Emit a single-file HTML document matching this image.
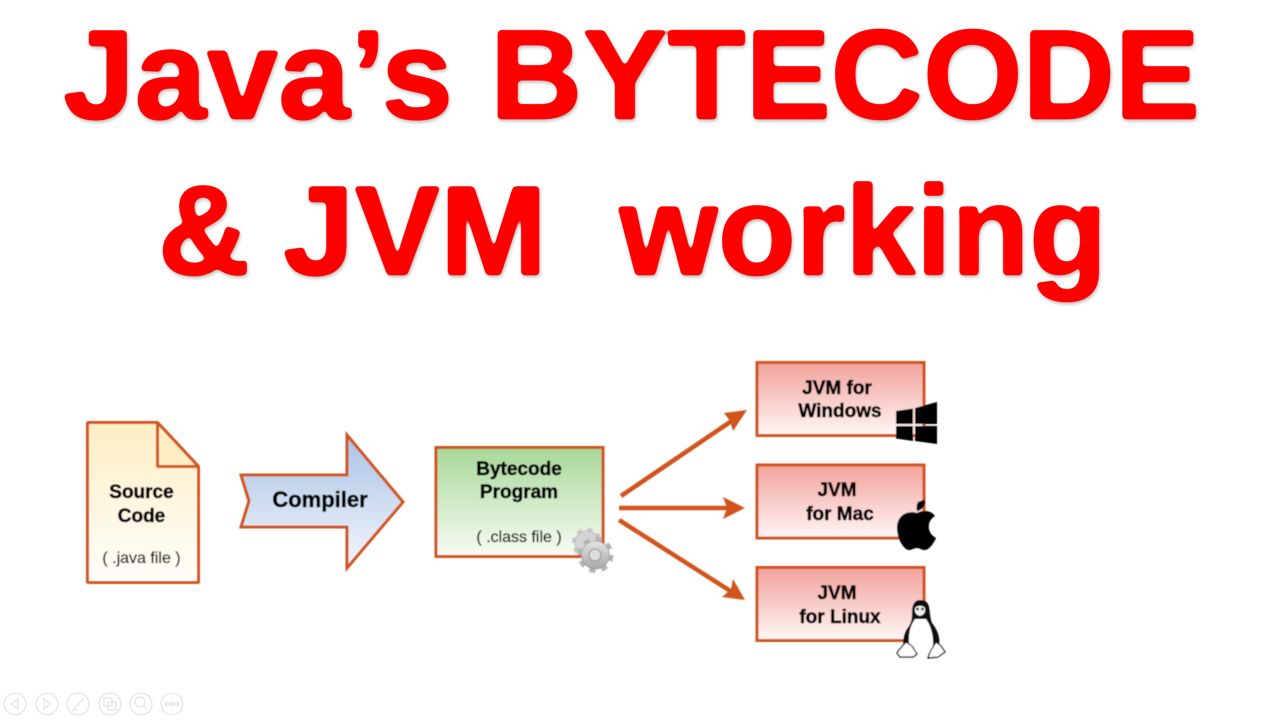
<!DOCTYPE html>
<html><head><meta charset="utf-8"><style>html,body{margin:0;padding:0;background:#fff}svg{display:block}</style></head><body>
<svg width="1280" height="720" viewBox="0 0 1280 720" xmlns="http://www.w3.org/2000/svg">
<defs>
<linearGradient id="y" x1="0" y1="0" x2="0" y2="1"><stop offset="0" stop-color="#fdeec4"/><stop offset="1" stop-color="#fffefa"/></linearGradient>
<linearGradient id="b" x1="0" y1="0" x2="0" y2="1"><stop offset="0" stop-color="#a9c3e6"/><stop offset="1" stop-color="#f4f7fc"/></linearGradient>
<linearGradient id="g" x1="0" y1="0" x2="0" y2="1"><stop offset="0" stop-color="#a8d898"/><stop offset="1" stop-color="#f8fcf6"/></linearGradient>
<linearGradient id="r" x1="0" y1="0" x2="0" y2="1"><stop offset="0" stop-color="#f2a29c"/><stop offset="1" stop-color="#fff6f5"/></linearGradient>
<linearGradient id="gear" x1="0" y1="0" x2="0" y2="1"><stop offset="0" stop-color="#e4e4e4"/><stop offset="1" stop-color="#a8a8a8"/></linearGradient>
<filter id="s" x="-5%" y="-5%" width="110%" height="110%"><feGaussianBlur stdDeviation="0.5"/></filter>
<filter id="sh" x="-5%" y="-10%" width="110%" height="125%" color-interpolation-filters="sRGB">
<feGaussianBlur stdDeviation="2.2" result="bl"/>
<feComponentTransfer in="bl" result="th"><feFuncA type="linear" slope="6" intercept="-2.5"/></feComponentTransfer>
<feDropShadow in="th" dx="1" dy="2" stdDeviation="1.5" flood-color="#000" flood-opacity="0.25"/>
</filter>
</defs>

<g font-family="'Liberation Sans',sans-serif" font-weight="700" font-size="127" fill="#ff0000" stroke="#ff0000" stroke-width="1.800" filter="url(#sh)">
<text x="63" y="118.500" textLength="390" lengthAdjust="spacingAndGlyphs">Java’s</text>
<text x="490" y="118.500" textLength="710" lengthAdjust="spacingAndGlyphs">BYTECODE</text>
<text x="158" y="274.500" textLength="92" lengthAdjust="spacingAndGlyphs">&amp;</text>
<text x="283" y="274.500" textLength="264" lengthAdjust="spacingAndGlyphs">JVM</text>
<text x="619" y="274.500" textLength="488" lengthAdjust="spacingAndGlyphs">working</text>
</g>

<g filter="url(#s)">
<g stroke="#d2521a" stroke-width="3" stroke-linejoin="bevel">
<path d="M87.500 422.500H157.500L198.500 466.500V582.500H87.500Z" fill="url(#y)"/>
<path d="M157.500 422.500V466.500H198.500Z" fill="#fdeec4"/>
</g>
<g stroke="#d2521a" stroke-width="3" stroke-linejoin="miter">
<path d="M241 475H347V435L403 502L347 568V527H241L249 501Z" fill="url(#b)"/>
<rect x="436" y="447.500" width="167" height="109" fill="url(#g)"/>
<rect x="757" y="362.500" width="167" height="73" fill="url(#r)"/>
<rect x="757" y="465" width="167" height="73" fill="url(#r)"/>
<rect x="757" y="567.500" width="167" height="73" fill="url(#r)"/>
</g>
<g stroke="#d2521a" stroke-width="4.500" fill="none">
<path d="M621 496L736 418"/><path d="M619 508H735"/><path d="M619 520L735 594"/>
</g>
<g fill="#d2521a">
<path d="M747 410L733 431L730 421L724 413Z"/>
<path d="M745 508L723 497L727 508L723 519Z"/>
<path d="M745 600L722 597L731 589L733 579Z"/>
</g>

<g font-family="'Liberation Sans',sans-serif" font-size="19" font-weight="700" fill="#000" stroke="#000" stroke-width="0.550" text-anchor="middle">
<text x="141.500" y="498">Source</text><text x="141.500" y="522">Code</text>
<text x="320" y="507" font-size="22">Compiler</text>
<text x="519" y="475">Bytecode</text><text x="519" y="498">Program</text>
<text x="837" y="394">JVM for</text><text x="840" y="417">Windows</text>
<text x="837" y="496">JVM</text><text x="840" y="520">for Mac</text>
<text x="837" y="599">JVM</text><text x="840" y="623">for Linux</text>
<g font-weight="400" font-size="16" fill="#000" stroke="#000" stroke-width="0.200">
<text x="141.500" y="563">( .java file )</text>
<text x="519" y="542">( .class file )</text>
</g>
</g>

<!-- gears -->
<circle cx="587" cy="543" r="13" stroke-dasharray="5 5.200" stroke-width="4.500" fill="none" stroke="#c8c8c8"/>
<circle cx="587" cy="543" r="12" fill="#d4d4d4" stroke="#a0a0a0" stroke-width=".6"/>
<circle cx="595.500" cy="555" r="15.500" fill="none" stroke="#b4b4b4" stroke-width="5" stroke-dasharray="6.100 6.070"/>
<circle cx="595.500" cy="555" r="14" fill="url(#gear)" stroke="#959595" stroke-width=".6"/>
<circle cx="595" cy="555" r="6" fill="#dcdcdc" stroke="#8f8f8f"/>

<!-- windows -->
<g fill="#000">
<path d="M896 411L913 408.500V424H896Z"/><path d="M915 408L937 402V424H915Z"/>
<path d="M896 426H913V441L896 438.500Z"/><path d="M915 426H937V444L915 441Z"/>
</g>

<!-- apple -->
<g fill="#000">
<path d="M918 502C922 501 925 498 925 502C925 507 920 511 917 511C916 507 917 504 918 502Z"/>
<path d="M917 513C922 510 931 510 935 516C930 519 928 524 929 529C930 534 933 536 936 538C934 543 929 550 925 550C921 550 920 548 917 548C914 548 912 550 909 550C904 550 897 539 897 528C897 517 905 510 917 513Z"/>
</g>

<!-- tux -->
<path d="M920 600C914 600 912 606 912 612C912 618 912 621 909 626C904 632 902 640 904 648L938 648C942 638 936 628 932 623C930 618 930 612 929 607C928 602 925 600 920 600Z" fill="#111"/>
<path d="M915 619C910 626 907 636 910 652L932 652C935 638 931 626 926 619Z" fill="#fff"/>
<path d="M915 608C917 605 923 605 925 608C926 612 924 615 920 616C916 615 914 612 915 608Z" fill="#efefef"/>
<circle cx="917.500" cy="609" r="1.300" fill="#111"/><circle cx="922.500" cy="609" r="1.300" fill="#111"/>
<path d="M899 650L906 642L912 646L917 654L913 657L900 657L897 653Z" fill="#fff" stroke="#111" stroke-width="1.200"/>
<path d="M930 652L936 642L941 646L945 652L938 657L928 658Z" fill="#fff" stroke="#111" stroke-width="1.200"/>
</g>

<!-- toolbar -->
<g fill="none" stroke="#e0e0e0" stroke-width="1.100">
<circle cx="15" cy="704" r="11"/><circle cx="47" cy="704" r="11"/><circle cx="78" cy="704" r="11"/><circle cx="110" cy="704" r="11"/><circle cx="141" cy="704" r="11"/><circle cx="172" cy="704" r="11"/>
<path d="M18 699L11 704L18 709Z"/><path d="M44 699L51 704L44 709Z"/>
<path d="M72 711L84 698M74 708L77 711"/>
<rect x="104" y="698" width="8" height="8"/><rect x="108" y="702" width="8" height="8"/>
<circle cx="140" cy="702" r="5"/><path d="M144 706L148 710"/>
<circle cx="167" cy="704" r="1.500"/><circle cx="172" cy="704" r="1.500"/><circle cx="177" cy="704" r="1.500"/>
</g>
</svg>
</body></html>
